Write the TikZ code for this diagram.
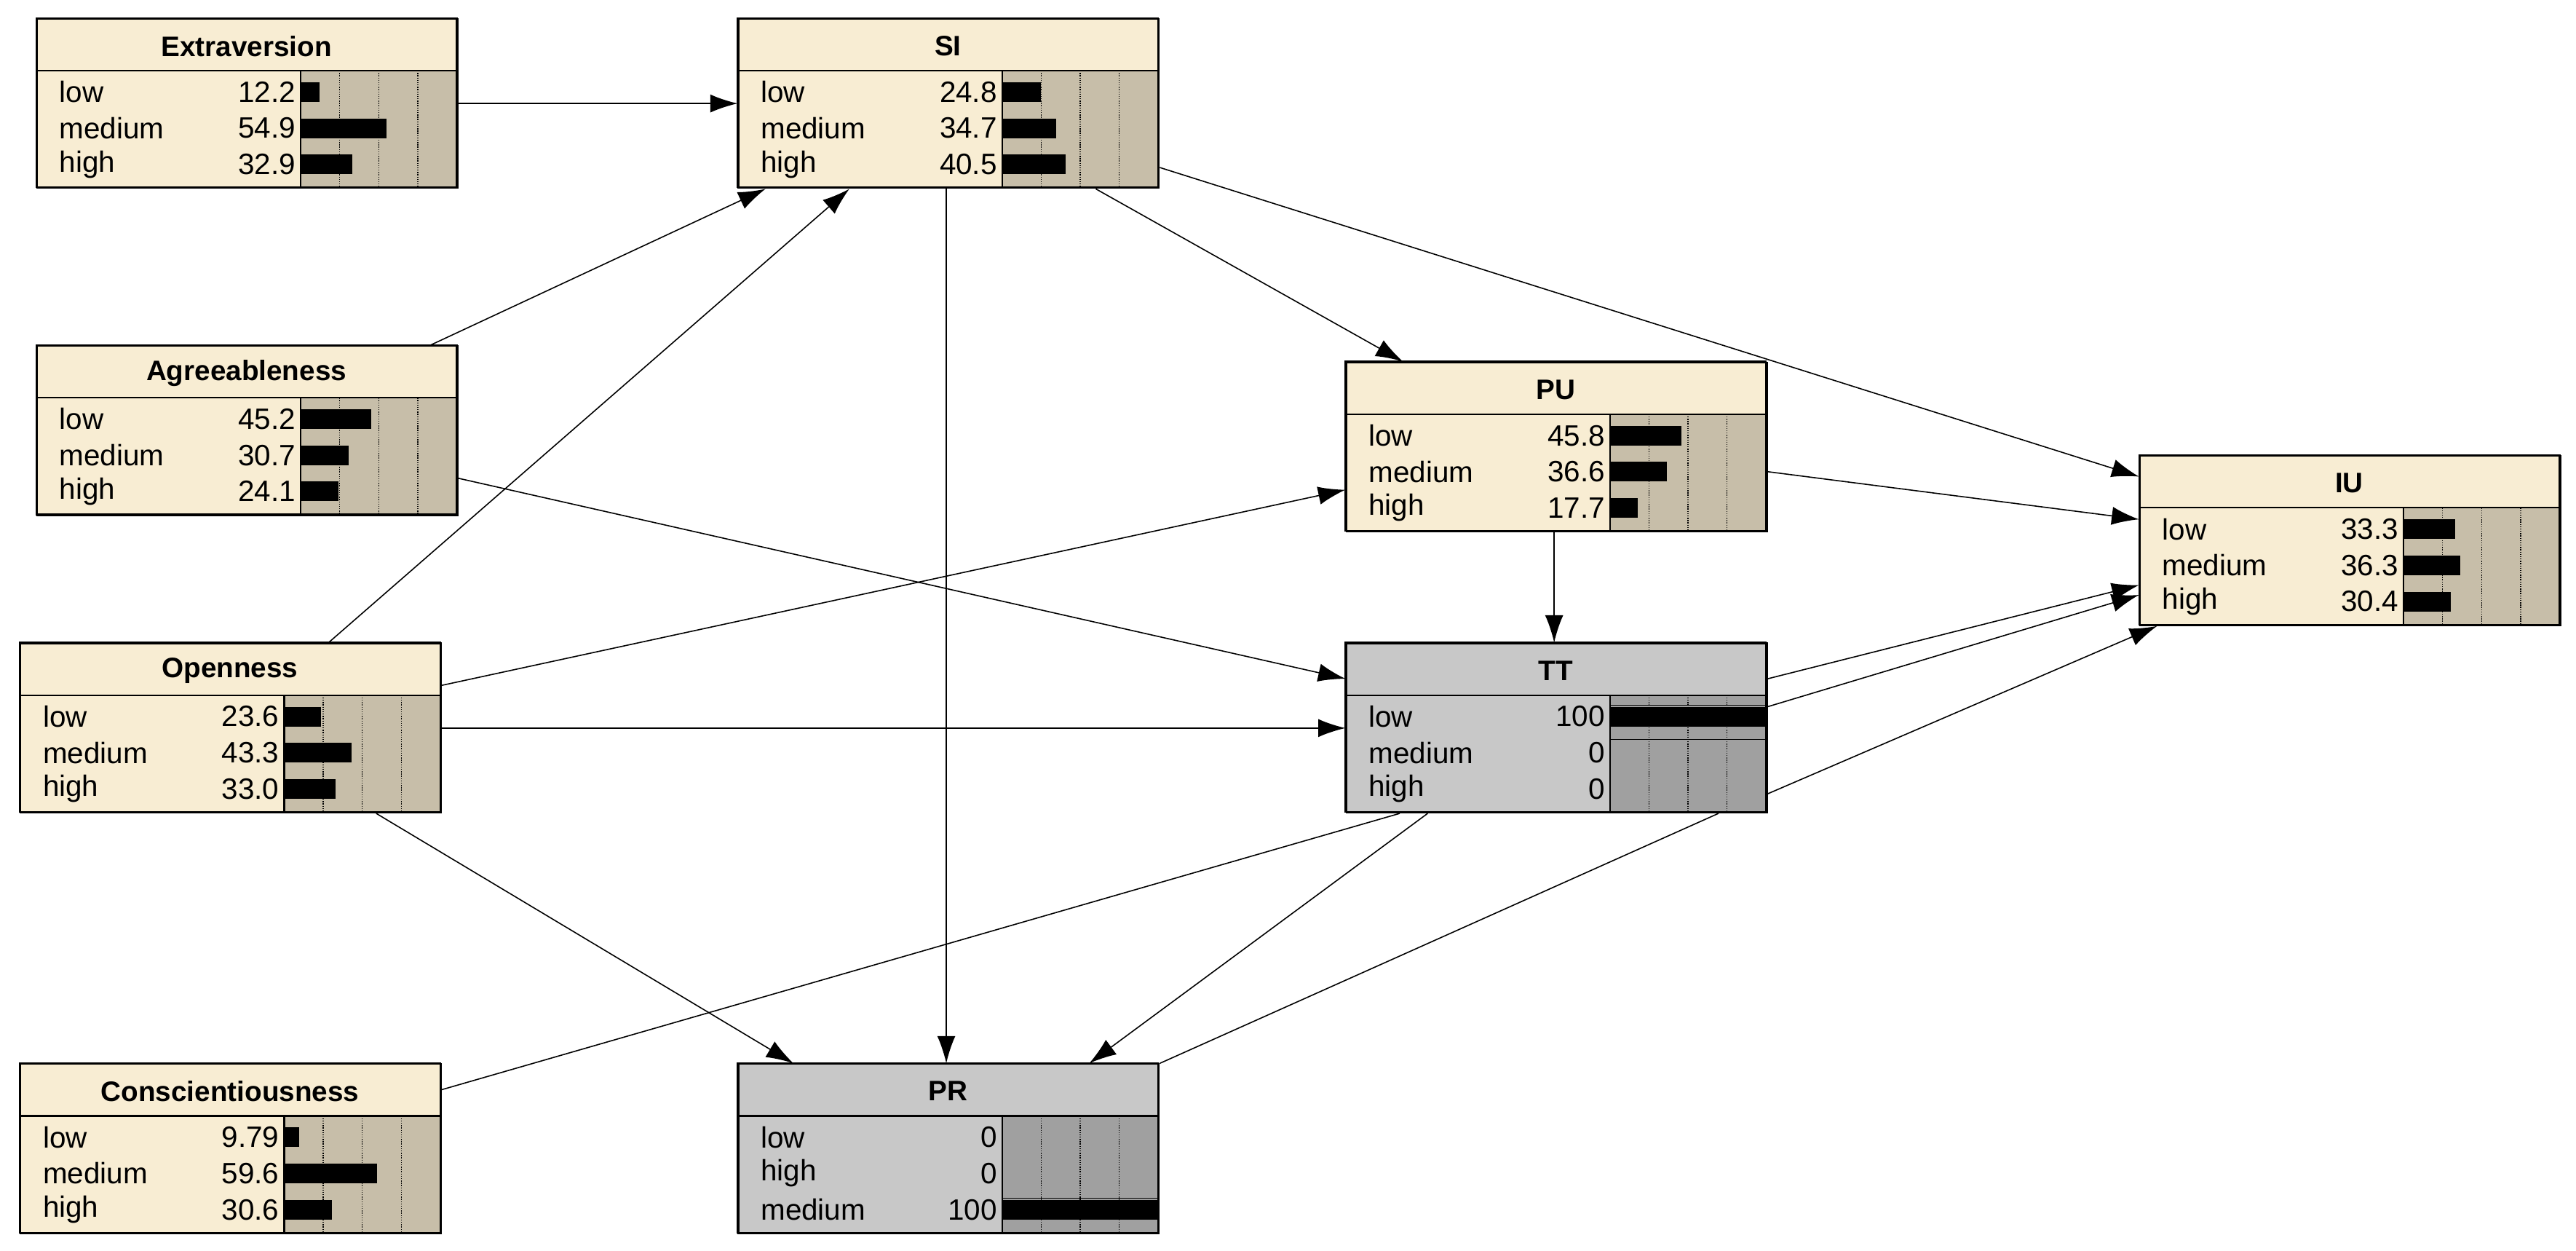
\documentclass[tikz,border=0pt]{standalone}
\usepackage{fontspec}
\setmainfont{Liberation Sans}
\usetikzlibrary{calc,arrows.meta}
\definecolor{cream}{HTML}{F8EDD3}
\definecolor{taupe}{HTML}{C7BEA9}
\definecolor{lgray}{HTML}{C8C8C8}
\definecolor{dgray}{HTML}{A0A0A0}
\tikzset{
  edge/.style={line width=0.9pt,-{Latex[length=0.75cm,width=0.5cm]}},
  plain/.style={line width=0.9pt},
  box/.style={draw,line width=1.2pt,minimum width=11.556cm,minimum height=4.649cm,anchor=north west,inner sep=0},
  lab/.style={font=\fontsize{23}{26}\selectfont,inner sep=0},
  ttl/.style={font=\fontsize{22}{26}\selectfont\bfseries,inner sep=0},
}
\newcommand\bnode[7]{%
  \node[box,fill=#5] (#1) at (#2,#3) {};
  \fill[#6] (#2+161,#3+32) rectangle (#2+256,#3+103);
  \foreach \k in {1,2,3}{\draw[densely dotted,line width=0.8pt] (#2+161+23.75*\k,#3+32) -- (#2+161+23.75*\k,#3+103);}
  \draw[line width=1.2pt] (#2,#3+32) -- (#2+256,#3+32) (#2+161,#3+32) -- (#2+161,#3+103);
  \node[ttl] at (#2+128,#3+17) {#4};
  \foreach \lab/\val/\p [count=\i] in {#7}{%
    \node[lab,anchor=west] at (#2+14,#3+23+22*\i) {\lab};
    \node[lab,anchor=east] at (#2+158,#3+23+22*\i) {\val};
    \fill (#2+161,#3+17+22*\i) rectangle (#2+161+0.95*\p,#3+29+22*\i);
  }
  \draw[line width=1.2pt] (#2,#3) rectangle (#2+256,#3+103);
}
\begin{document}
\begin{tikzpicture}[x=0.04514cm,y=-0.04514cm]
\useasboundingbox[fill=white] (0,0) rectangle (1568,761);
\bnode{ext}{22}{11}{Extraversion}{cream}{taupe}{low/12.2/12.2,medium/54.9/54.9,high/32.9/32.9}
\bnode{si}{449}{11}{SI}{cream}{taupe}{low/24.8/24.8,medium/34.7/34.7,high/40.5/40.5}
\bnode{agr}{22}{210}{Agreeableness}{cream}{taupe}{low/45.2/45.2,medium/30.7/30.7,high/24.1/24.1}
\bnode{pu}{819}{220}{PU}{cream}{taupe}{low/45.8/45.8,medium/36.6/36.6,high/17.7/17.7}
\bnode{iu}{1302}{277}{IU}{cream}{taupe}{low/33.3/33.3,medium/36.3/36.3,high/30.4/30.4}
\bnode{opn}{12}{391}{Openness}{cream}{taupe}{low/23.6/23.6,medium/43.3/43.3,high/33.0/33.0}
\bnode{tt}{819}{391}{TT}{lgray}{dgray}{low/100/100,medium/0/0,high/0/0}
\bnode{con}{12}{647}{Conscientiousness}{cream}{taupe}{low/9.79/9.79,medium/59.6/59.6,high/30.6/30.6}
\bnode{pr}{449}{647}{PR}{lgray}{dgray}{low/0/0,high/0/0,medium/100/100}
% selection lines around full bars
\draw[line width=0.8pt] (980,429)--(1075,429) (980,450)--(1075,450);
\draw[line width=0.8pt] (610,729)--(705,729) (610,750)--(705,750);
% edges
\draw[edge] (ext.east) -- (ext.east -| si.west);
\draw[edge] ($(agr.north west)+(240,0)$) -- ($(si.south west)+(17,0)$);
\draw[edge] ($(opn.north west)+(188,0)$) -- ($(si.south west)+(68,0)$);
\draw[edge] ($(si.south west)+(127,0)$) -- ($(pr.north west)+(127,0)$);
\draw[edge] ($(si.south west)+(218,0)$) -- ($(pu.north west)+(35,0)$);
\draw[edge] ($(si.south east)+(0,-13)$) -- ($(iu.north west)+(0,13)$);
\draw[edge] ($(agr.north east)+(0,81)$) -- ($(tt.north west)+(0,22)$);
\draw[edge] ($(opn.north east)+(0,26)$) -- ($(pu.north west)+(0,78)$);
\draw[edge] ($(opn.north east)+(0,52)$) -- ($(tt.north west)+(0,52)$);
\draw[edge] ($(opn.south west)+(217,0)$) -- ($(pr.north west)+(34,0)$);
\draw[edge] ($(pu.north east)+(0,67)$) -- ($(iu.north west)+(0,39)$);
\draw[edge] ($(pu.south west)+(127,0)$) -- ($(tt.north west)+(127,0)$);
\draw[edge] ($(tt.north east)+(0,22)$) -- ($(iu.north west)+(0,79)$);
\draw[edge] ($(tt.north east)+(0,39)$) -- ($(iu.north west)+(0,85)$);
\draw[edge] ($(tt.north east)+(0,92)$) -- ($(iu.south west)+(11,0)$);
\draw[plain] ($(con.north east)+(0,16)$) -- ($(tt.south west)+(33,0)$);
\draw[edge] ($(tt.south west)+(50,0)$) -- ($(pr.north west)+(214,0)$);
\draw[plain] ($(tt.south west)+(227,0)$) -- (pr.north east);
\end{tikzpicture}
\end{document}
